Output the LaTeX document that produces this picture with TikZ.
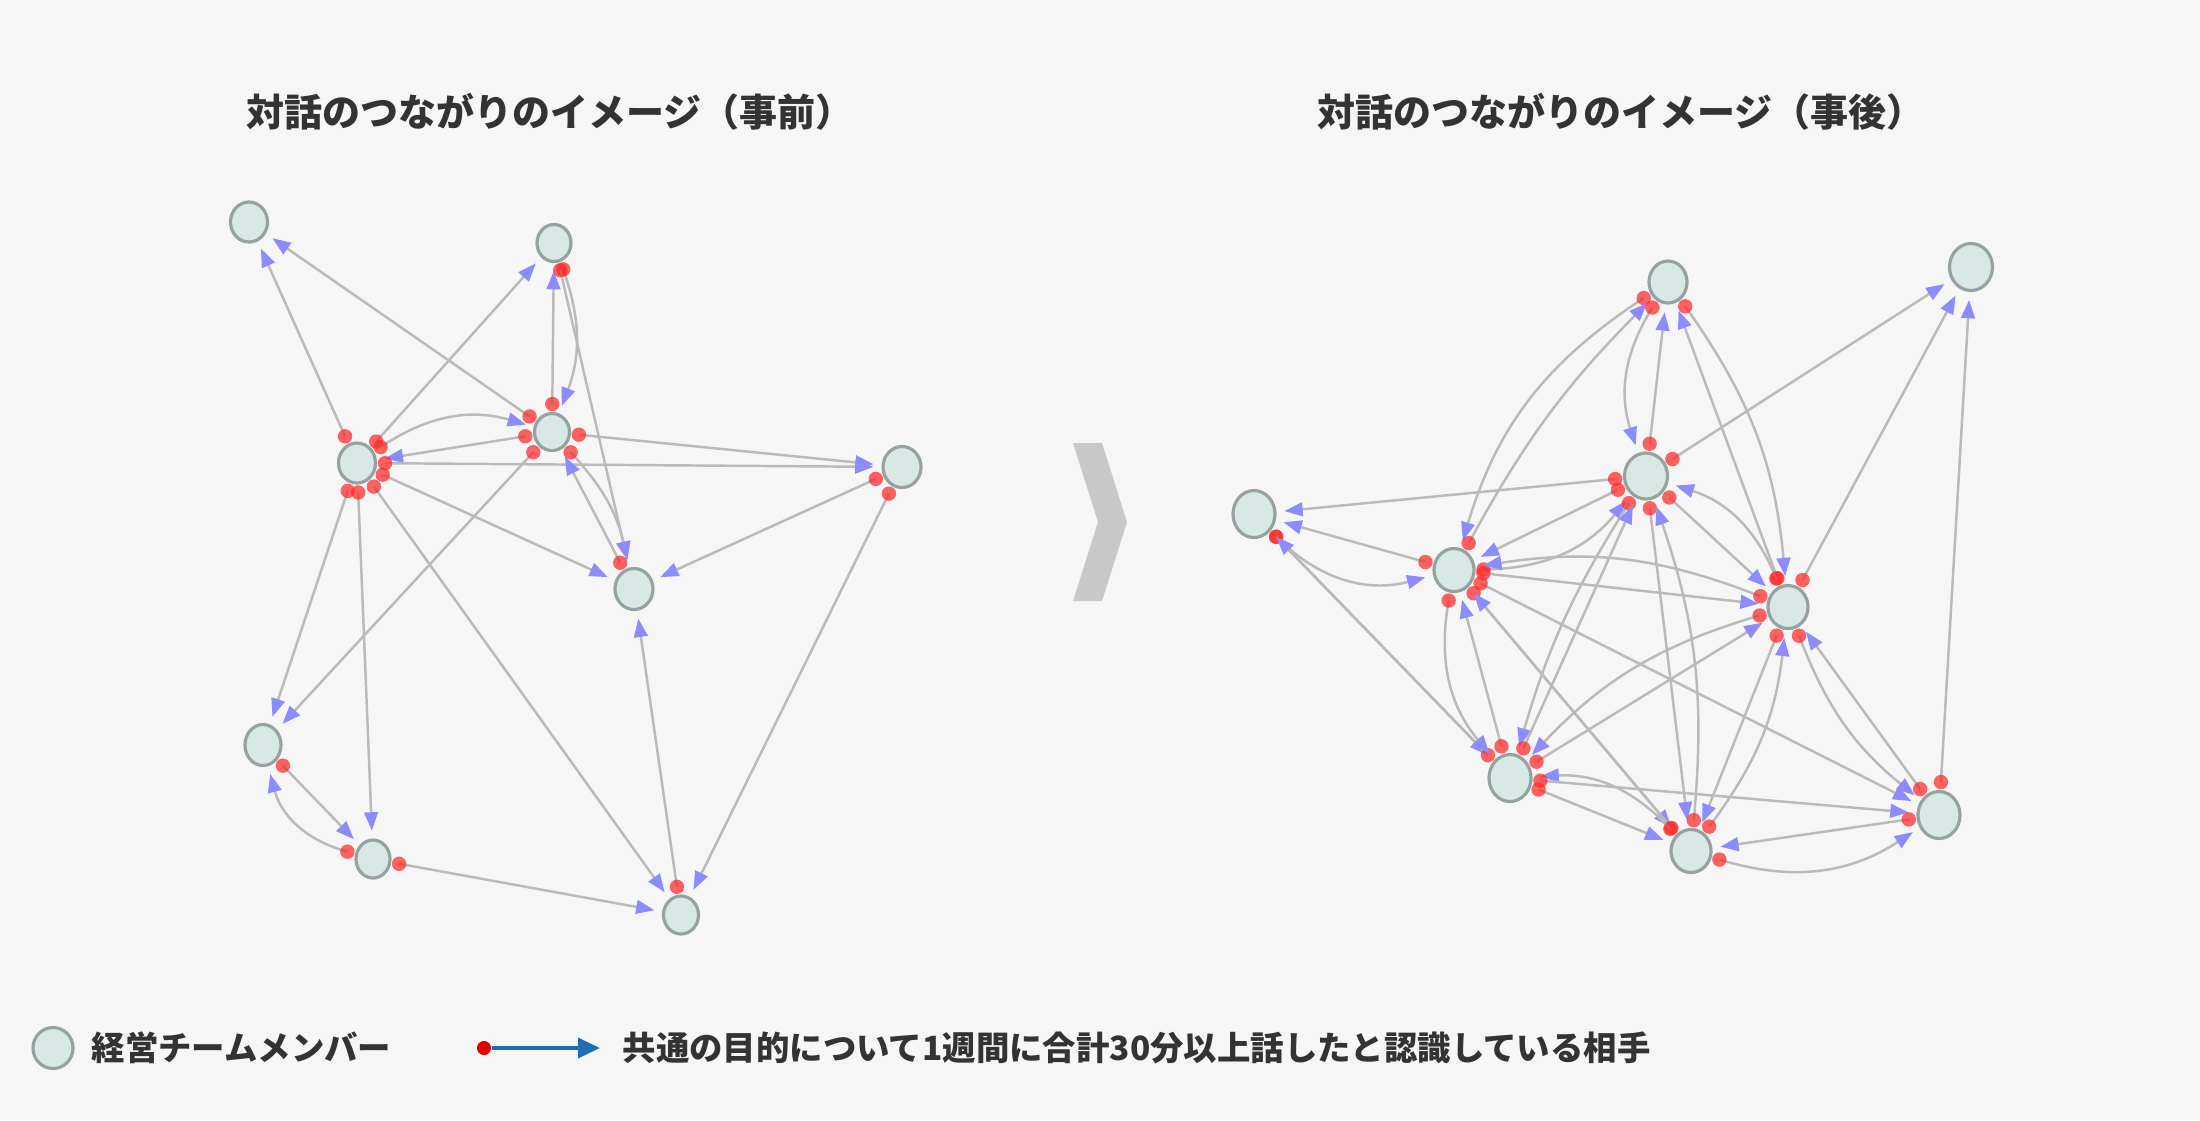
\documentclass[tikz,border=0pt]{standalone}
\usepackage{fontspec}
\setmainfont{Noto Sans CJK JP}
\usetikzlibrary{shapes.geometric,arrows.meta}
\definecolor{bgc}{RGB}{246,246,246}
\definecolor{ndfill}{RGB}{216,232,228}
\definecolor{ndline}{RGB}{150,162,160}
\definecolor{lnc}{RGB}{186,186,186}
\definecolor{arrc}{RGB}{140,140,255}
\definecolor{dotc}{RGB}{255,40,40}
\definecolor{txtc}{RGB}{51,51,51}
\definecolor{legblue}{RGB}{30,110,180}
\definecolor{legred}{RGB}{230,0,0}
\definecolor{chev}{RGB}{200,200,200}
\newcommand\lk[3][]{\draw[lnk] (#2) to[#1] node[pos=0,rdot]{} (#3);}
\begin{document}
\begin{tikzpicture}[x=0.01cm,y=-0.01cm,
  nd/.style={ellipse,draw=ndline,fill=ndfill,line width=0.9pt,inner sep=0pt,outer sep=2.7pt},
  rdot/.style={circle,fill=dotc,fill opacity=0.72,draw=none,minimum size=4.1pt,inner sep=0pt,outer sep=0pt},
  lnk/.style={draw=lnc,line width=0.7pt,-{Triangle[length=5.2pt,width=3.9pt,color=arrc]}},
  ttl/.style={font=\bfseries\fontsize{10.8pt}{13pt}\selectfont,text=txtc,inner sep=0pt},
  lgt/.style={font=\bfseries\fontsize{9.5pt}{12pt}\selectfont,text=txtc,inner sep=0pt,anchor=west}]
\fill[bgc] (0,0) rectangle (2200,1120);
\useasboundingbox (0,0) rectangle (2200,1120);

% titles
\node[ttl] (t1) at (550,112) {対話のつながりのイメージ（事前）};
\node[ttl] (t2) at (1621,112) {対話のつながりのイメージ（事後）};

% chevron
\fill[chev] (1073,443) -- (1102,443) -- (1127,522) -- (1102,601) -- (1073,601) -- (1098,522) -- cycle;

% left graph nodes
\node[nd,minimum width=0.37cm,minimum height=0.40cm] (A) at (249,222) {};
\node[nd,minimum width=0.34cm,minimum height=0.37cm] (B) at (554,243) {};
\node[nd,minimum width=0.35cm,minimum height=0.37cm] (C) at (552,432) {};
\node[nd,minimum width=0.37cm,minimum height=0.40cm] (D) at (357,463) {};
\node[nd,minimum width=0.38cm,minimum height=0.41cm] (E) at (902,467) {};
\node[nd,minimum width=0.38cm,minimum height=0.41cm] (F) at (634,589) {};
\node[nd,minimum width=0.36cm,minimum height=0.41cm] (G) at (263,745) {};
\node[nd,minimum width=0.34cm,minimum height=0.38cm] (H) at (373,859) {};
\node[nd,minimum width=0.35cm,minimum height=0.38cm] (I) at (681,915) {};

% left graph edges
\lk{D}{A}
\lk{C}{A}
\lk{D}{B}
\lk{C}{B}
\lk[bend left=20]{B}{C}
\lk{B}{F}
\lk[bend left=25]{D}{C}
\lk{C}{D}
\lk{D}{E}
\lk{C}{E}
\lk{D}{F}
\lk{E}{F}
\lk{E}{I}
\lk{I}{F}
\lk{D}{G}
\lk{C}{G}
\lk{D}{H}
\lk{D}{I}
\lk{G}{H}
\lk[bend left=30]{H}{G}
\lk{H}{I}
\lk{F}{C}
\lk[bend left=15]{C}{F}

% right graph nodes
\node[nd,minimum width=0.38cm,minimum height=0.42cm] (rT) at (1668,282) {};
\node[nd,minimum width=0.43cm,minimum height=0.47cm] (rTR) at (1971,267) {};
\node[nd,minimum width=0.43cm,minimum height=0.46cm] (rM) at (1646,476) {};
\node[nd,minimum width=0.42cm,minimum height=0.47cm] (rL) at (1254,514) {};
\node[nd,minimum width=0.40cm,minimum height=0.43cm] (rLM) at (1454,570) {};
\node[nd,minimum width=0.40cm,minimum height=0.43cm] (rRM) at (1788,607) {};
\node[nd,minimum width=0.42cm,minimum height=0.47cm] (rLB) at (1510,778) {};
\node[nd,minimum width=0.42cm,minimum height=0.47cm] (rRB) at (1939,815) {};
\node[nd,minimum width=0.40cm,minimum height=0.43cm] (rB) at (1691,851) {};

% right graph edges
\lk[bend right=20]{rT}{rLM}
\lk[bend left=8]{rLM}{rT}
\lk[bend right=25]{rT}{rM}
\lk{rM}{rT}
\lk[bend left=15]{rT}{rRM}
\lk{rRM}{rT}
\lk{rM}{rTR}
\lk{rRM}{rTR}
\lk{rRB}{rTR}
\lk{rM}{rL}
\lk{rLM}{rL}
\lk[bend right=30]{rL}{rLM}
\lk{rL}{rLB}
\lk{rLB}{rL}
\lk{rM}{rLM}
\lk[bend right=25]{rLM}{rM}
\lk{rM}{rRM}
\lk[bend right=25]{rRM}{rM}
\lk[bend right=8]{rM}{rLB}
\lk{rLB}{rM}
\lk{rM}{rB}
\lk[bend right=12]{rB}{rM}
\lk{rLM}{rRM}
\lk[bend right=15]{rRM}{rLM}
\lk[bend right=25]{rLM}{rLB}
\lk{rLB}{rLM}
\lk{rLM}{rB}
\lk{rB}{rLM}
\lk{rLM}{rRB}
\lk{rLB}{rRM}
\lk[bend right=15]{rRM}{rLB}
\lk{rLB}{rB}
\lk[bend right=25]{rB}{rLB}
\lk{rLB}{rRB}
\lk{rRM}{rB}
\lk[bend right=15]{rB}{rRM}
\lk[bend right=15]{rRM}{rRB}
\lk{rRB}{rRM}
\lk{rRB}{rB}
\lk[bend right=25]{rB}{rRB}

% legend
\node[nd,minimum width=0.40cm,minimum height=0.41cm] (lg1) at (53,1048) {};
\node[lgt] (lg1t) at (91,1048) {経営チームメンバー};
\node[circle,fill=legred,minimum size=4pt,inner sep=0pt] (lgdot) at (484,1048) {};
\coordinate (lgend) at (600,1048);
\draw[legblue,line width=1.1pt,-{Triangle[length=6.2pt,width=5.6pt]}] (lgdot.east) -- (lgend);
\node[lgt] (lg2t) at (622,1048) {共通の目的について1週間に合計30分以上話したと認識している相手};
\end{tikzpicture}
\end{document}
